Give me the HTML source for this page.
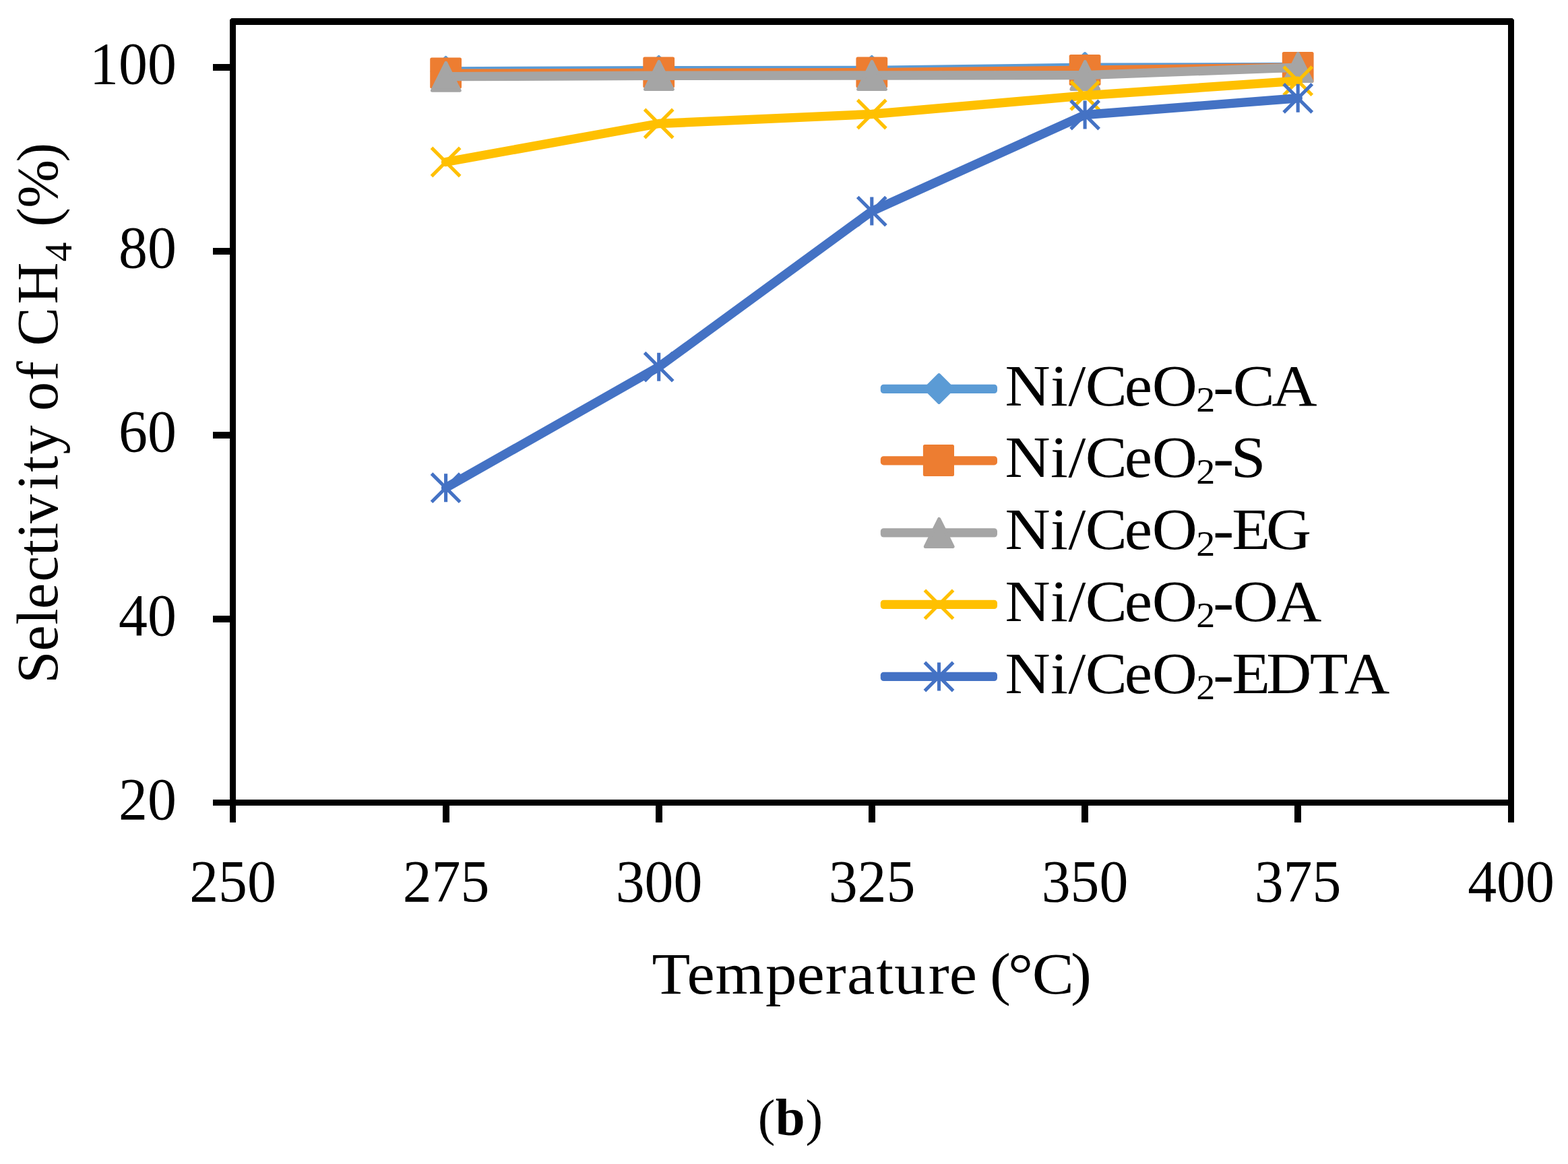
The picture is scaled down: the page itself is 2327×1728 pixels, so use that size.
<!DOCTYPE html>
<html lang="en">
<head>
<meta charset="utf-8">
<title>Selectivity of CH4 versus temperature (b)</title>
<style>
html,body{margin:0;padding:0;background:#fff;}
body{width:2327px;height:1728px;overflow:hidden;}
svg{display:block;}
text{font-family:"Liberation Serif","DejaVu Serif",serif;fill:#000;}
</style>
</head>
<body>
<svg width="2327" height="1728" viewBox="0 0 2327 1728">
<rect width="2327" height="1728" fill="#fff"/>
<g fill="#000">
<path d="M343.5 27H2244.5L2247 29.5V1221H2238V37H350V1221H341V29.5Z"/>
<rect x="316" y="1187" width="1931" height="9"/>
<rect x="316" y="95" width="26" height="10"/>
<rect x="316" y="368" width="26" height="10"/>
<rect x="316" y="641" width="26" height="10"/>
<rect x="316" y="914" width="26" height="10"/>
<rect x="657" y="1187" width="10" height="34"/>
<rect x="973" y="1187" width="10" height="34"/>
<rect x="1289" y="1187" width="10" height="34"/>
<rect x="1605" y="1187" width="10" height="34"/>
<rect x="1921" y="1187" width="10" height="34"/>
</g>
<g>
<polyline points="661.6,105.9 977.7,104.8 1293.8,104.5 1610.1,100.3 1926.2,99.5" fill="none" stroke="#5B9BD5" stroke-width="13.4" stroke-linejoin="round" stroke-linecap="round"/>
<polygon points="661.6,84.9 682.6,105.9 661.6,126.9 640.6,105.9" fill="#5B9BD5" stroke="#5B9BD5" stroke-width="4" stroke-linejoin="round"/>
<polygon points="977.7,83.9 998.7,104.9 977.7,125.9 956.7,104.9" fill="#5B9BD5" stroke="#5B9BD5" stroke-width="4" stroke-linejoin="round"/>
<polygon points="1293.8,83.9 1314.8,104.9 1293.8,125.9 1272.8,104.9" fill="#5B9BD5" stroke="#5B9BD5" stroke-width="4" stroke-linejoin="round"/>
<polygon points="1610.1,79 1631.1,100 1610.1,121 1589.1,100" fill="#5B9BD5" stroke="#5B9BD5" stroke-width="4" stroke-linejoin="round"/>
<polygon points="1926.2,79.3 1947.2,100.3 1926.2,121.3 1905.2,100.3" fill="#5B9BD5" stroke="#5B9BD5" stroke-width="4" stroke-linejoin="round"/>
</g>
<g>
<polyline points="661.6,109.2 977.7,108.3 1293.8,107.6 1610.1,104.2 1926.2,100.2" fill="none" stroke="#ED7D31" stroke-width="13.4" stroke-linejoin="round" stroke-linecap="round"/>
<rect x="638.2" y="85.6" width="46.8" height="46" rx="2.5" fill="#ED7D31"/>
<rect x="954.3" y="84.6" width="46.8" height="46" rx="2.5" fill="#ED7D31"/>
<rect x="1270.4" y="84.6" width="46.8" height="46" rx="2.5" fill="#ED7D31"/>
<rect x="1586.7" y="80.9" width="46.8" height="46" rx="2.5" fill="#ED7D31"/>
<rect x="1902.8" y="76.9" width="46.8" height="46" rx="2.5" fill="#ED7D31"/>
</g>
<g>
<polyline points="661.6,113.6 977.7,112.3 1293.8,112 1610.1,111.6 1926.2,100.1" fill="none" stroke="#A5A5A5" stroke-width="13.4" stroke-linejoin="round" stroke-linecap="round"/>
<polygon points="661.8,93.3 682.2,134.3 641.4,134.3" fill="#A5A5A5" stroke="#A5A5A5" stroke-width="5.0" stroke-linejoin="round"/>
<polygon points="977.9,91.5 998.3,132.5 957.5,132.5" fill="#A5A5A5" stroke="#A5A5A5" stroke-width="5.0" stroke-linejoin="round"/>
<polygon points="1294,91.5 1314.4,132.5 1273.6,132.5" fill="#A5A5A5" stroke="#A5A5A5" stroke-width="5.0" stroke-linejoin="round"/>
<polygon points="1610.3,91.5 1630.7,132.5 1589.9,132.5" fill="#A5A5A5" stroke="#A5A5A5" stroke-width="5.0" stroke-linejoin="round"/>
<polygon points="1926.4,79.5 1946.8,120.5 1906,120.5" fill="#A5A5A5" stroke="#A5A5A5" stroke-width="5.0" stroke-linejoin="round"/>
</g>
<g>
<polyline points="661.6,240.5 977.7,183.5 1293.8,169.5 1610.1,141.9 1926.2,120.1" fill="none" stroke="#FFC000" stroke-width="13.4" stroke-linejoin="round" stroke-linecap="round"/>
<path d="M640.5 219.4L682.7 261.6M640.5 261.6L682.7 219.4" fill="none" stroke="#FFC000" stroke-width="5.1"/>
<path d="M956.6 162.4L998.8 204.6M956.6 204.6L998.8 162.4" fill="none" stroke="#FFC000" stroke-width="5.1"/>
<path d="M1272.7 148.4L1314.9 190.6M1272.7 190.6L1314.9 148.4" fill="none" stroke="#FFC000" stroke-width="5.1"/>
<path d="M1589 120.8L1631.2 163M1589 163L1631.2 120.8" fill="none" stroke="#FFC000" stroke-width="5.1"/>
<path d="M1905.1 99L1947.3 141.2M1905.1 141.2L1947.3 99" fill="none" stroke="#FFC000" stroke-width="5.1"/>
</g>
<g>
<polyline points="661.6,724.2 977.7,544.7 1293.8,313.6 1610.1,170.5 1926.2,145.8" fill="none" stroke="#4472C4" stroke-width="13.4" stroke-linejoin="round" stroke-linecap="round"/>
<path d="M640.5 703.1L682.7 745.3M640.5 745.3L682.7 703.1M661.6 703.2L661.6 745.2" fill="none" stroke="#4472C4" stroke-width="5.1"/>
<path d="M956.6 523.6L998.8 565.8M956.6 565.8L998.8 523.6M977.7 523.7L977.7 565.7" fill="none" stroke="#4472C4" stroke-width="5.1"/>
<path d="M1272.7 292.5L1314.9 334.7M1272.7 334.7L1314.9 292.5M1293.8 292.6L1293.8 334.6" fill="none" stroke="#4472C4" stroke-width="5.1"/>
<path d="M1589 149.4L1631.2 191.6M1589 191.6L1631.2 149.4M1610.1 149.5L1610.1 191.5" fill="none" stroke="#4472C4" stroke-width="5.1"/>
<path d="M1905.1 124.7L1947.3 166.9M1905.1 166.9L1947.3 124.7M1926.2 124.8L1926.2 166.8" fill="none" stroke="#4472C4" stroke-width="5.1"/>
</g>
<rect x="1306.8" y="570.8" width="173.2" height="13.2" rx="4.5" fill="#5B9BD5"/>
<polygon points="1393.5,556 1414.5,577 1393.5,598 1372.5,577" fill="#5B9BD5" stroke="#5B9BD5" stroke-width="4" stroke-linejoin="round"/>
<text transform="translate(1490 601.5) scale(1.08 1)" font-size="86" x="1.5 63.8 88.4 111.7 165.5 203.4" y="0">Ni/CeO<tspan font-size="52" x="264.2" y="9.9">2</tspan><tspan x="287.3 314.5 368" y="0">-CA</tspan></text>
<rect x="1306.8" y="677.2" width="173.2" height="13.2" rx="4.5" fill="#ED7D31"/>
<rect x="1369.9" y="660" width="46.1" height="46.9" rx="2.5" fill="#ED7D31"/>
<text transform="translate(1490 707.9) scale(1.08 1)" font-size="86" x="1.5 63.8 88.4 111.7 165.5 203.4" y="0">Ni/CeO<tspan font-size="52" x="264.2" y="9.9">2</tspan><tspan x="287.3 311.7" y="0">-S</tspan></text>
<rect x="1306.8" y="784.3" width="173.2" height="13.2" rx="4.5" fill="#A5A5A5"/>
<polygon points="1393.7,770.4 1414.1,811.4 1373.3,811.4" fill="#A5A5A5" stroke="#A5A5A5" stroke-width="5.0" stroke-linejoin="round"/>
<text transform="translate(1490 815) scale(1.08 1)" font-size="86" x="1.5 63.8 88.4 111.7 165.5 203.4" y="0">Ni/CeO<tspan font-size="52" x="264.2" y="9.9">2</tspan><tspan x="287.3 313.1 360.2" y="0">-EG</tspan></text>
<rect x="1306.8" y="890.8" width="173.2" height="13.2" rx="4.5" fill="#FFC000"/>
<path d="M1372.4 876.3L1414.6 918.5M1372.4 918.5L1414.6 876.3" fill="none" stroke="#FFC000" stroke-width="5.1"/>
<text transform="translate(1490 921.5) scale(1.08 1)" font-size="86" x="1.5 63.8 88.4 111.7 165.5 203.4" y="0">Ni/CeO<tspan font-size="52" x="264.2" y="9.9">2</tspan><tspan x="287.3 314.5 374.4" y="0">-OA</tspan></text>
<rect x="1306.8" y="997.8" width="173.2" height="13.2" rx="4.5" fill="#4472C4"/>
<path d="M1372.4 983.4L1414.6 1025.6M1372.4 1025.6L1414.6 983.4M1393.5 983.5L1393.5 1025.5" fill="none" stroke="#4472C4" stroke-width="5.1"/>
<text transform="translate(1490 1028.5) scale(1.08 1)" font-size="86" x="1.5 63.8 88.4 111.7 165.5 203.4" y="0">Ni/CeO<tspan font-size="52" x="264.2" y="9.9">2</tspan><tspan x="287.3 313.1 360.4 420.1 467.8" y="0">-EDTA</tspan></text>
<text transform="translate(261.8 124.2) scale(1.01 1.05)" font-size="85" text-anchor="end">100</text>
<text transform="translate(261.8 397.2) scale(1.01 1.05)" font-size="85" text-anchor="end">80</text>
<text transform="translate(261.8 670.2) scale(1.01 1.05)" font-size="85" text-anchor="end">60</text>
<text transform="translate(261.8 943.2) scale(1.01 1.05)" font-size="85" text-anchor="end">40</text>
<text transform="translate(261.8 1216.2) scale(1.01 1.05)" font-size="85" text-anchor="end">20</text>
<text transform="translate(345.5 1338.4) scale(1.01 1.05)" font-size="85" text-anchor="middle">250</text>
<text transform="translate(662 1338.4) scale(1.01 1.05)" font-size="85" text-anchor="middle">275</text>
<text transform="translate(978 1338.4) scale(1.01 1.05)" font-size="85" text-anchor="middle">300</text>
<text transform="translate(1294 1338.4) scale(1.01 1.05)" font-size="85" text-anchor="middle">325</text>
<text transform="translate(1610 1338.4) scale(1.01 1.05)" font-size="85" text-anchor="middle">350</text>
<text transform="translate(1926 1338.4) scale(1.01 1.05)" font-size="85" text-anchor="middle">375</text>
<text transform="translate(2242.5 1338.4) scale(1.01 1.05)" font-size="85" text-anchor="middle">400</text>
<text transform="translate(970 1474.6) scale(1.08 1)" font-size="86" x="-2.3 45.8 84.7 153.8 196.7 235.9 265.8 305.8 330.7 377.6 406.2 444.4 462 487 520.1 573.1" y="0">Temperature (°C)</text>
<text transform="translate(85.3 1010.0) rotate(-90) scale(1.0 1)" font-size="86" x="-4.6 43.4 82.6 106.1 146.6 185.1 210.3 233.1 282.5 309.2 335.4 378.4 400 445 473.6 496.6 558.4" y="0">Selectivity of CH<tspan font-size="58" x="621.6" y="21">4</tspan><tspan x="650.6 673.3 701.2 769.4" y="0"> (%)</tspan></text>
<text transform="translate(1129 1685)" font-size="77" x="-4.3" y="0">(<tspan font-weight="bold" font-size="79" x="21.7">b</tspan><tspan x="66.6">)</tspan></text>
</svg>
</body>
</html>
